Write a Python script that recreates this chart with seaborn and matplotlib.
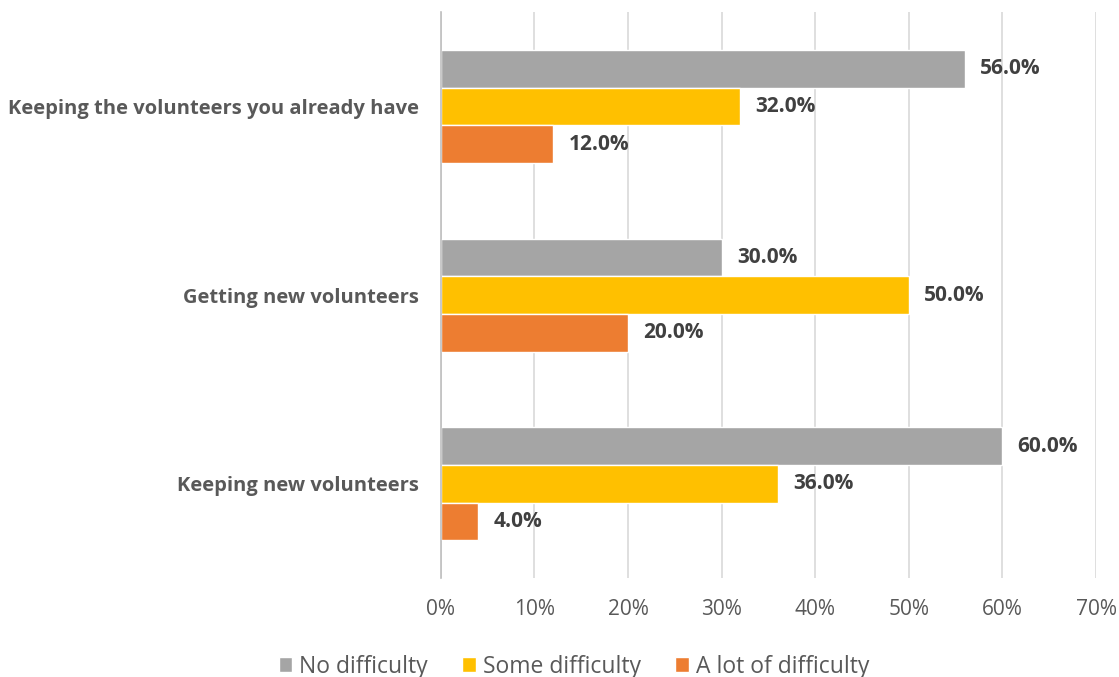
import numpy as np
import pandas as pd
import matplotlib
matplotlib.use('Agg')
import matplotlib.pyplot as plt
import seaborn as sns

# data
categories = ['Keeping the volunteers you already have', 'Getting new volunteers', 'Keeping new volunteers']
levels = ['No difficulty', 'Some difficulty', 'A lot of difficulty']
no_difficulty = [56.0, 30.0, 60.0]
some_difficulty = [32.0, 50.0, 36.0]
lot_difficulty = [12.0, 20.0, 4.0]
x_ticks = [0, 10, 20, 30, 40, 50, 60, 70]

palette = ['#A5A5A5', '#FFC000', '#ED7D31']
dark = '#404040'
mid = '#595959'

df = pd.DataFrame({
	'category': categories * 3,
	'level': [levels[0]] * 3 + [levels[1]] * 3 + [levels[2]] * 3,
	'value': no_difficulty + some_difficulty + lot_difficulty,
})

sns.set_theme(style='white')
plt.rcParams['font.family'] = ['Open Sans', 'DejaVu Sans']

fig = plt.figure(figsize=(11.19, 6.77), dpi=100)
ax = fig.add_axes([0.394, 0.146, 0.5855, 0.836])

sns.barplot(data=df, y='category', x='value', hue='level', order=categories,
	hue_order=levels, palette=palette, width=0.6, orient='h', ax=ax,
	saturation=1, legend=True)

for container in ax.containers:
	ax.bar_label(container, labels=['%.1f%%' % v for v in container.datavalues],
		padding=11, fontsize=15, fontweight='bold', color=dark)

ax.set_xlim(0, 70)
ax.set_ylim(2.5, -0.5)
ax.set_xticks(x_ticks)
ax.set_xticklabels(['%d%%' % t for t in x_ticks], fontsize=15, color=mid)
ax.set_yticks(range(len(categories)))
ax.set_yticklabels(categories, fontsize=14.5, fontweight='bold', color=mid)
ax.tick_params(axis='y', length=0, pad=16)
ax.tick_params(axis='x', length=0, pad=15)
ax.set_xlabel('')
ax.set_ylabel('')
ax.xaxis.grid(True, color='#D9D9D9', linewidth=1.2)
ax.set_axisbelow(True)
for s in ['top', 'right', 'bottom']:
	ax.spines[s].set_visible(False)
ax.spines['left'].set_color('#BFBFBF')
ax.spines['left'].set_linewidth(1.2)

handles, labels = ax.get_legend_handles_labels()
ax.get_legend().remove()
fig.legend(handles, labels, loc='center', bbox_to_anchor=(0.513, 0.015), ncol=3,
	frameon=False, fontsize=16.5, handlelength=0.6, handleheight=0.6,
	handletextpad=0.3, columnspacing=1.5, labelcolor=mid)

fig.savefig('out.png', dpi=100)
